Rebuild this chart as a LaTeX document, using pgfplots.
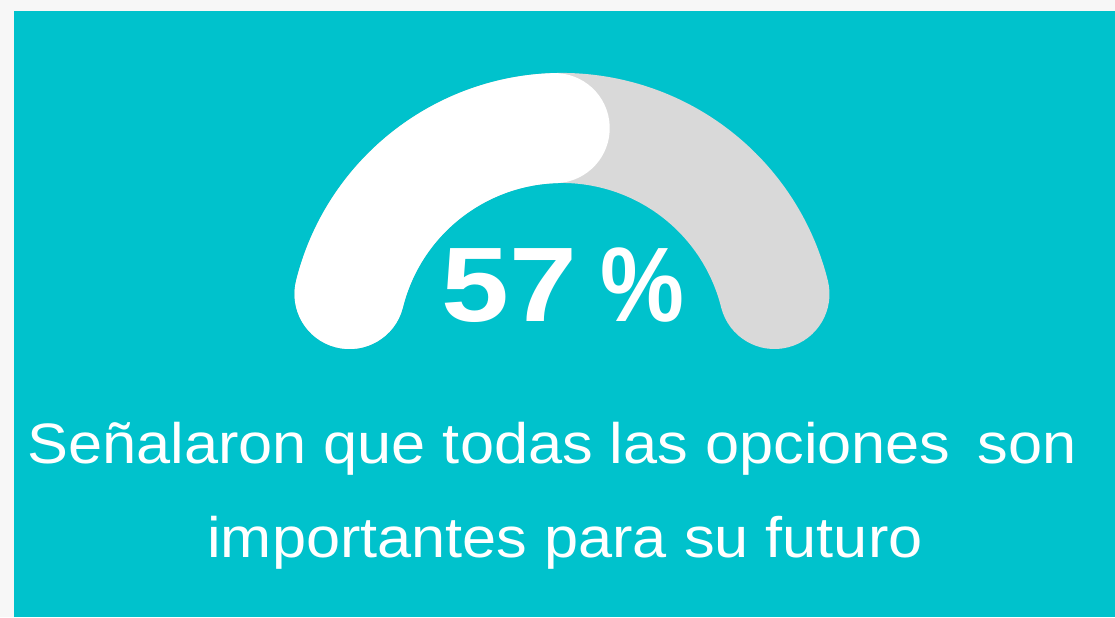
\documentclass[border=0pt]{standalone}
\usepackage{pgfplots}
\pgfplotsset{compat=1.18}
\usepackage{fontspec}
\setmainfont{Liberation Sans}
\definecolor{bgpage}{HTML}{F7F7F7}
\definecolor{teal}{HTML}{00C2CC}
\definecolor{gaugegrey}{HTML}{D9D9D9}
% gauge data (percent)
\def\gaugevalue{57}
\def\gaugestart{166}
\def\gaugeend{14}
\begin{document}
\begin{tikzpicture}
\begin{axis}[
  x=0.5pt, y=0.5pt,
  xmin=0, xmax=1115, ymin=0, ymax=617,
  scale only axis,
  hide axis,
  clip=false,
]
% page background and panel
\fill[bgpage] (axis cs:0,0) rectangle (axis cs:1115,617);
\fill[teal] (axis cs:14,0) rectangle (axis cs:1115,606);
% gauge track
\pgfmathsetmacro{\valangle}{\gaugestart-\gaugevalue*1.3}
\draw[gaugegrey, line width=55pt, line cap=round]
  (axis cs:562,270) ++(\gaugestart:109.5pt) arc[start angle=\gaugestart, end angle=\gaugeend, radius=109.5pt];
\draw[white, line width=55pt, line cap=round]
  (axis cs:562,270) ++(\gaugestart:109.5pt) arc[start angle=\gaugestart, end angle=\valangle, radius=109.5pt];
% labels
\node[anchor=base, text=white, font=\fontsize{53}{60}\selectfont\bfseries, inner sep=0pt]
  at (axis cs:563,295) {{\addfontfeature{FakeStretch=1.15}\gaugevalue}\hspace{11.5pt}{\addfontfeature{FakeStretch=0.89}\%}};
\node[anchor=base, text=white, font=\fontsize{28.5}{34}\selectfont\addfontfeature{FakeStretch=1.075}, inner sep=0pt]
  at (axis cs:552,154) {Señalaron que todas las opciones \hspace{5pt}son};
\node[anchor=base, text=white, font=\fontsize{28.5}{34}\selectfont\addfontfeature{FakeStretch=1.075}, inner sep=0pt]
  at (axis cs:565,60) {importantes para su futuro};
\end{axis}
\end{tikzpicture}
\end{document}
